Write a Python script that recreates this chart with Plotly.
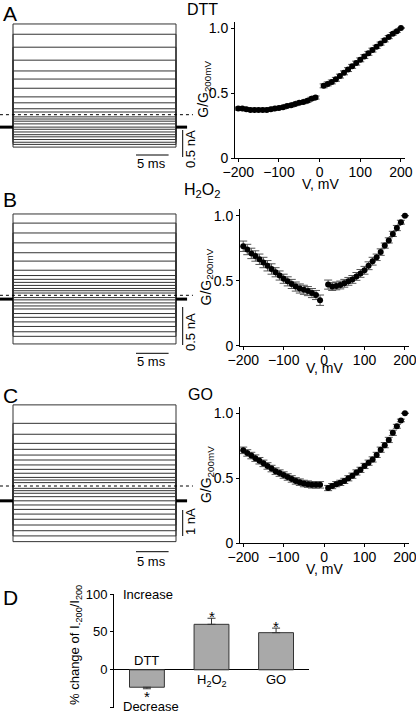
import plotly.graph_objects as go

W, H = 416, 715

# ---------------- data ----------------
V_mV = [-200, -190, -180, -170, -160, -150, -140, -130, -120, -110,
        -100, -90, -80, -70, -60, -50, -40, -30, -20, -10,
        10, 20, 30, 40, 50, 60, 70, 80, 90, 100,
        110, 120, 130, 140, 150, 160, 170, 180, 190, 200]

G_dtt = [0.38, 0.38, 0.375, 0.37, 0.37, 0.37, 0.37, 0.37, 0.375, 0.38,
         0.385, 0.39, 0.40, 0.405, 0.415, 0.425, 0.43, 0.44, 0.455, 0.465,
         0.555, 0.57, 0.585, 0.605, 0.63, 0.655, 0.68, 0.705, 0.73, 0.755,
         0.78, 0.805, 0.83, 0.855, 0.88, 0.905, 0.93, 0.955, 0.975, 1.0]
E_dtt = [0.012, 0.012, 0.012, 0.012, 0.012, 0.012, 0.012, 0.012, 0.012, 0.012,
         0.012, 0.012, 0.012, 0.012, 0.012, 0.012, 0.012, 0.012, 0.012, 0.012,
         0.015, 0.015, 0.015, 0.015, 0.015, 0.015, 0.015, 0.015, 0.015, 0.015,
         0.015, 0.015, 0.015, 0.012, 0.012, 0.012, 0.012, 0.01, 0.008, 0.0]

G_h2o2 = [0.765, 0.74, 0.71, 0.69, 0.665, 0.64, 0.615, 0.59, 0.565, 0.54,
          0.515, 0.495, 0.475, 0.455, 0.44, 0.43, 0.42, 0.405, 0.39, 0.35,
          0.47, 0.455, 0.46, 0.467, 0.48, 0.495, 0.51, 0.533, 0.556, 0.58,
          0.615, 0.65, 0.68, 0.72, 0.77, 0.81, 0.86, 0.905, 0.95, 1.0]
E_h2o2 = [0.04, 0.04, 0.04, 0.04, 0.04, 0.04, 0.04, 0.04, 0.035, 0.035,
          0.035, 0.035, 0.035, 0.035, 0.035, 0.035, 0.035, 0.035, 0.035, 0.04,
          0.035, 0.03, 0.03, 0.03, 0.03, 0.03, 0.03, 0.03, 0.03, 0.03,
          0.03, 0.03, 0.025, 0.025, 0.02, 0.02, 0.02, 0.02, 0.015, 0.0]

G_go = [0.715, 0.695, 0.675, 0.655, 0.635, 0.615, 0.595, 0.575, 0.555, 0.54,
        0.525, 0.51, 0.495, 0.48, 0.47, 0.46, 0.455, 0.45, 0.45, 0.45,
        0.425, 0.44, 0.455, 0.465, 0.48, 0.50, 0.52, 0.545, 0.565, 0.595,
        0.62, 0.645, 0.68, 0.72, 0.755, 0.795, 0.85, 0.90, 0.945, 1.0]
E_go = [0.025, 0.025, 0.025, 0.025, 0.025, 0.025, 0.025, 0.025, 0.025, 0.025,
        0.025, 0.025, 0.025, 0.025, 0.025, 0.025, 0.025, 0.025, 0.025, 0.025,
        0.02, 0.02, 0.02, 0.02, 0.02, 0.02, 0.02, 0.02, 0.02, 0.02,
        0.02, 0.02, 0.02, 0.02, 0.02, 0.02, 0.02, 0.015, 0.01, 0.0]

# steady-state current of each sweep during the pulse (nA)
I_dtt = [1.68, 1.49, 1.25, 1.01, 0.81, 0.66, 0.49, 0.33, 0.22, 0.11, 0.05,
         -0.04, -0.08, -0.12, -0.17, -0.23, -0.27, -0.32, -0.37, -0.41,
         -0.46, -0.51, -0.55, -0.60]
I_h2o2 = [1.07, 0.95, 0.82, 0.69, 0.56, 0.45, 0.33, 0.26, 0.21, 0.17, 0.13,
          0.09, 0.06, 0.03, -0.03, -0.06, -0.10, -0.14, -0.18, -0.24, -0.29,
          -0.35, -0.41, -0.48, -0.54, -0.64]
I_go = [3.12, 2.41, 1.99, 1.64, 1.41, 1.19, 1.00, 0.81, 0.64, 0.49, 0.33,
        0.23, 0.13, -0.09, -0.18, -0.28, -0.41, -0.57, -0.73, -0.90, -1.08,
        -1.28, -1.50, -1.72, -1.92, -2.14]
I_hold = [-0.23, -0.05, -0.57]          # holding current (nA)
pulse_ms = [0, 25]
hold_ms = [-2, 26.7]
scale_ms = 5
scale_nA = [0.5, 0.5, 1.0]
scale_nA_text = ["0.5 nA", "0.5 nA", "1 nA"]

conditions = ["DTT", "H<sub>2</sub>O<sub>2</sub>", "GO"]
pct_change = [-23, 60, 49]
pct_err_up = [0, 8, 6]
pct_err_down = [2, 0, 0]

FONT = "Arial, Liberation Sans, sans-serif"


def fx(px):
    return px / W


def fy(py):
    return 1 - py / H


fig = go.Figure()
layout = dict(width=W, height=H,
              margin=dict(l=0, r=0, t=0, b=0, pad=0, autoexpand=False),
              paper_bgcolor="white", plot_bgcolor="white",
              font=dict(family=FONT, color="black", size=14),
              showlegend=False)
annotations = []
shapes = []

# ---------------- current-trace panels ----------------
px_per_ms = 6.52
t0_px = 13
trace_panels = [
    dict(I=I_dtt, zero=114.7, k=0.5 / 27, top=10, bot=170, hbar=155, vtop=130, tms=163.5, tna=149),
    dict(I=I_h2o2, zero=295.3, k=0.5 / 38, top=200, bot=365, hbar=353.3, vtop=307, tms=361.7, tna=332),
    dict(I=I_go, zero=486.0, k=1 / 26, top=398, bot=565, hbar=551.7, vtop=510, tms=561.7, tna=522),
]
tmin = (0 - t0_px) / px_per_ms
tmax = (200 - t0_px) / px_per_ms
for i, p in enumerate(trace_panels):
    key = 1 if i == 0 else 2 * i + 1
    xa = "x" if key == 1 else f"x{key}"
    ya = "y" if key == 1 else f"y{key}"
    sfx = "" if key == 1 else str(key)
    k = p["k"]
    layout[f"xaxis{sfx}"] = dict(domain=[0, fx(200)], range=[tmin, tmax],
                                 visible=False, anchor=ya)
    layout[f"yaxis{sfx}"] = dict(
        domain=[fy(p["bot"]), fy(p["top"])],
        range=[(p["zero"] - p["bot"]) * k, (p["zero"] - p["top"]) * k],
        visible=False, anchor=xa)
    hold = I_hold[i]
    xs, ys = [], []
    for lvl in p["I"]:
        xs += [pulse_ms[0], pulse_ms[0], pulse_ms[1], pulse_ms[1], None]
        ys += [hold, lvl, lvl, hold, None]
    fig.add_trace(go.Scatter(x=xs, y=ys, mode="lines",
                             line=dict(color="#333333", width=1),
                             xaxis=xa, yaxis=ya, hoverinfo="skip"))
    fig.add_trace(go.Scatter(x=[hold_ms[0], hold_ms[1] + 0.9], y=[0, 0], mode="lines",
                             line=dict(color="black", width=1, dash="dot"),
                             xaxis=xa, yaxis=ya, hoverinfo="skip"))
    fig.add_trace(go.Scatter(x=[hold_ms[0], pulse_ms[0], None, pulse_ms[1], hold_ms[1]],
                             y=[hold, hold, None, hold, hold], mode="lines",
                             line=dict(color="black", width=3),
                             xaxis=xa, yaxis=ya, hoverinfo="skip"))
    tb0 = (136 - t0_px) / px_per_ms
    yb = (p["zero"] - p["hbar"]) * k
    shapes.append(dict(type="line", xref=xa, yref=ya, x0=tb0, x1=tb0 + scale_ms,
                       y0=yb, y1=yb, line=dict(color="black", width=1)))
    tv = (182.7 - t0_px) / px_per_ms
    yv = (p["zero"] - p["vtop"]) * k
    shapes.append(dict(type="line", xref=xa, yref=ya, x0=tv, x1=tv,
                       y0=yv, y1=yv - scale_nA[i], line=dict(color="black", width=1)))
    annotations.append(dict(text=f"{scale_ms} ms", xref="paper", yref="paper",
                            x=fx(151), y=fy(p["tms"]), xanchor="center", yanchor="middle",
                            showarrow=False, font=dict(size=13)))
    annotations.append(dict(text=scale_nA_text[i], xref="paper", yref="paper",
                            x=fx(190), y=fy(p["tna"]), xanchor="center", yanchor="middle",
                            textangle=-90, showarrow=False, font=dict(size=13)))

# ---------------- G/G200 panels ----------------
scatter_panels = [
    dict(G=G_dtt, E=E_dtt, xd=(235, 405), y0=158.0, ylab=204, vlab=184, vx=320),
    dict(G=G_h2o2, E=E_h2o2, xd=(240, 409), y0=345.7, ylab=207, vlab=368, vx=324),
    dict(G=G_go, E=E_go, xd=(240, 409), y0=543.3, ylab=207, vlab=569, vx=324),
]
for i, p in enumerate(scatter_panels):
    key = 2 * i + 2
    xa, ya = f"x{key}", f"y{key}"
    ytop = p["y0"] - 1.05 * 130
    axis_common = dict(showline=True, linecolor="black", linewidth=1, ticks="outside",
                       ticklen=3, tickwidth=1, tickcolor="black", showgrid=False,
                       zeroline=False, tickfont=dict(size=14, family=FONT))
    layout[f"xaxis{key}"] = dict(domain=[fx(p["xd"][0]), fx(p["xd"][1])],
                                 range=[-208, 210], tickvals=[-200, -100, 0, 100, 200],
                                 anchor=ya, ticklabelstandoff=-2,
                                 ticklabeloverflow="allow", **axis_common)
    layout[f"yaxis{key}"] = dict(domain=[fy(p["y0"]), fy(ytop)], range=[0, 1.05],
                                 tickvals=[0, 0.5, 1.0], ticktext=["0", "0.5", "1.0"],
                                 anchor=xa, **axis_common)
    fig.add_trace(go.Scatter(x=V_mV, y=p["G"], mode="markers",
                             marker=dict(color="black", size=6),
                             error_y=dict(type="data", array=p["E"], color="#555",
                                          thickness=1, width=4),
                             xaxis=xa, yaxis=ya))
    annotations.append(dict(text="G/G<sub>200mV</sub>", xref="paper", yref="paper",
                            x=fx(p["ylab"]), y=fy((p["y0"] + ytop) / 2),
                            xanchor="center", yanchor="middle", textangle=-90,
                            showarrow=False, font=dict(size=14)))
    annotations.append(dict(text="V, mV", xref="paper", yref="paper",
                            x=fx(p["vx"]), y=fy(p["vlab"]), xanchor="center",
                            yanchor="middle", showarrow=False, font=dict(size=14)))

for txt, py in [("A", 0), ("B", 186), ("C", 382), ("D", 584)]:
    annotations.append(dict(text=txt, xref="paper", yref="paper", x=fx(1), y=fy(py),
                            xanchor="left", yanchor="top", showarrow=False,
                            font=dict(size=21)))
for txt, px, py in [(conditions[0], 185, 10), (conditions[1], 182, 190), (conditions[2], 186, 394)]:
    annotations.append(dict(text=txt, xref="paper", yref="paper", x=fx(px), y=fy(py),
                            xanchor="left", yanchor="middle", showarrow=False,
                            font=dict(size=16)))

# ---------------- bar chart D ----------------
cats = [0, 1, 2]
fig.add_trace(go.Bar(x=cats, y=pct_change, width=0.54,
                     marker=dict(color="#a9a9a9", line=dict(color="#333", width=1)),
                     error_y=dict(type="data", symmetric=False, array=pct_err_up,
                                  arrayminus=pct_err_down, color="#333",
                                  thickness=1, width=4),
                     xaxis="x8", yaxis="y8"))
layout["xaxis8"] = dict(domain=[fx(114), fx(309)], range=[-0.51, 2.51], visible=False,
                        anchor="y8")
layout["yaxis8"] = dict(domain=[fy(707.7), fy(594)], range=[-50, 100],
                        tickvals=[-50, 0, 50, 100], showline=True, linecolor="black",
                        linewidth=1, ticks="outside", ticklen=3, tickcolor="black",
                        showgrid=False, zeroline=True, zerolinecolor="black",
                        zerolinewidth=1, tickfont=dict(size=13, family=FONT), anchor="x8")
for i in cats:
    if pct_change[i] < 0:
        annotations.append(dict(text=conditions[i], x=i, y=0, xref="x8", yref="y8",
                                yanchor="bottom", showarrow=False, font=dict(size=13)))
        annotations.append(dict(text="*", x=i, y=pct_change[i] - pct_err_down[i],
                                xref="x8", yref="y8", yanchor="middle", yshift=-8,
                                showarrow=False, font=dict(size=15)))
    else:
        annotations.append(dict(text=conditions[i], x=i, y=0, xref="x8", yref="y8",
                                yanchor="top", showarrow=False, font=dict(size=13)))
        annotations.append(dict(text="*", x=i, y=pct_change[i] + pct_err_up[i],
                                xref="x8", yref="y8", yanchor="middle", yshift=2,
                                showarrow=False, font=dict(size=15)))
annotations.append(dict(text="Increase", xref="paper", yref="paper", x=fx(121), y=fy(594),
                        xanchor="left", yanchor="middle", showarrow=False, font=dict(size=13)))
annotations.append(dict(text="Decrease", xref="paper", yref="paper", x=fx(121), y=fy(706),
                        xanchor="left", yanchor="middle", showarrow=False, font=dict(size=13)))
annotations.append(dict(text="% change of I<sub>-200</sub>/I<sub>200</sub>", xref="paper",
                        yref="paper", x=fx(75), y=fy(645), xanchor="center", yanchor="middle",
                        textangle=-90, showarrow=False, font=dict(size=13)))

layout["annotations"] = annotations
layout["shapes"] = shapes
fig.update_layout(**layout)
fig.write_html("out.html", config={"displayModeBar": False},
               post_script="document.body.style.margin='0';document.body.style.overflow='hidden';")
